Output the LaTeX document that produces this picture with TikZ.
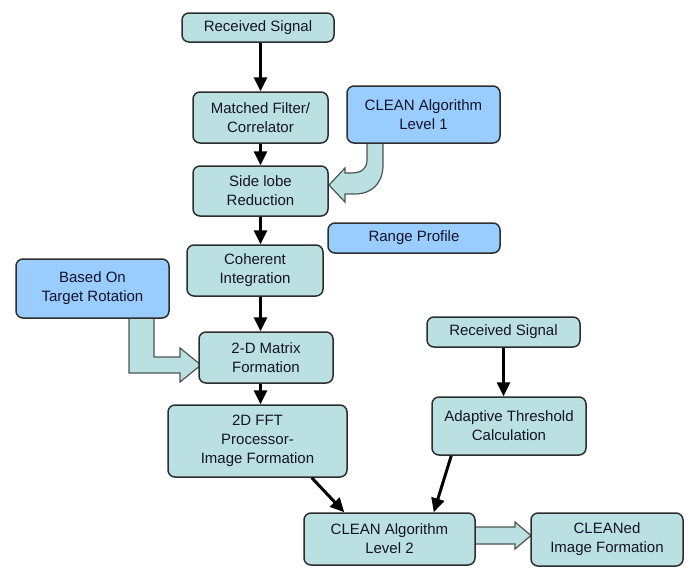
\documentclass[tikz,border=0pt]{standalone}
\usepackage{fontspec}
\setmainfont{Liberation Sans}
\usetikzlibrary{arrows.meta,calc}
\definecolor{teal1}{RGB}{187,224,226}
\definecolor{blue1}{RGB}{153,204,255}
\definecolor{edge1}{RGB}{45,45,45}
\definecolor{edge2}{RGB}{75,85,85}
\definecolor{txt1}{RGB}{20,20,40}
\tikzset{
  box/.style={draw=edge1, line width=1.5pt, rounded corners=7pt, fill=teal1, align=center,
    font=\fontsize{15}{19}\selectfont, inner sep=0pt, text=txt1},
  bbox/.style={box, fill=blue1},
  arr/.style={line width=3pt, -{Triangle[width=13pt,length=14pt]}},
  blk/.style={draw=edge2, line width=1.2pt, fill=teal1, line join=miter}
}
\begin{document}
\begin{tikzpicture}[x=1pt,y=-1pt]
\useasboundingbox (0,0) rectangle (691,568);
% block arrows (drawn first)
\draw[blk] (367,141) -- (367,160) .. controls (367,169) and (361,173) .. (351,173) -- (345,173) -- (345,168) -- (329,185) -- (345,202) -- (345,194) -- (355,194) .. controls (372,194) and (383,183) .. (383,165) -- (383,141) -- cycle;
\draw[blk] (129,316) -- (129,373) -- (180,373) -- (180,382) -- (201,365) -- (180,348) -- (180,357) -- (154,357) -- (154,316) -- cycle;
\draw[blk] (474,527) -- (515,527) -- (515,522) -- (531,535.5) -- (515,549) -- (515,544) -- (474,544) -- cycle;
% boxes
\node[box, minimum width=152pt, minimum height=29pt] (rs1) at (258,27.5) {Received Signal};
\node[box, minimum width=135pt, minimum height=51pt] (mf) at (260.5,117.5) {Matched Filter/\\Correlator};
\node[bbox, minimum width=153pt, minimum height=57pt] (cl1) at (423.5,114.5) {CLEAN Algorithm\\Level 1};
\node[box, minimum width=135pt, minimum height=50pt] (sl) at (260.5,191) {Side lobe\\Reduction};
\node[bbox, minimum width=172pt, minimum height=30pt] (rp) at (414,238) {Range Profile};
\node[box, minimum width=136pt, minimum height=51pt] (ci) at (255,270.5) {Coherent\\Integration};
\node[bbox, minimum width=153pt, minimum height=59pt] (bo) at (92.5,288.5) {Based On\\Target Rotation};
\node[box, minimum width=134pt, minimum height=51pt] (mx) at (266,357.5) {2-D Matrix\\Formation};
\node[box, minimum width=179pt, minimum height=72pt] (fft) at (257.5,441) {2D FFT\\Processor-\\Image Formation};
\node[box, minimum width=153pt, minimum height=30pt] (rs2) at (503.5,332) {Received Signal};
\node[box, minimum width=154pt, minimum height=58pt] (atc) at (509,426) {Adaptive Threshold\\Calculation};
\node[box, minimum width=171pt, minimum height=52pt] (cl2) at (389.5,539) {CLEAN Algorithm\\Level 2};
\node[box, minimum width=152pt, minimum height=53pt] (cln) at (607,539.5) {CLEANed\\Image Formation};
% black arrows
\draw[arr] (rs1.south -| mf.south) -- (mf.north);
\draw[arr] (mf.south) -- (sl.north);
\draw[arr] (sl.south) -- (sl.south |- ci.north);
\draw[arr] (ci.south -| mf.south) -- (mx.north -| mf.south);
\draw[arr] (mx.south -| mf.south) -- (fft.north -| mf.south);
\draw[arr] ($(fft.south east)+(-36,0)$) -- ($(cl2.north west)+(41,0)$);
\draw[arr] ($(atc.south west)+(20,0)$) -- ($(cl2.north east)+(-42,0)$);
\draw[arr] (rs2.south) -- (rs2.south |- atc.north);
\end{tikzpicture}
\end{document}
